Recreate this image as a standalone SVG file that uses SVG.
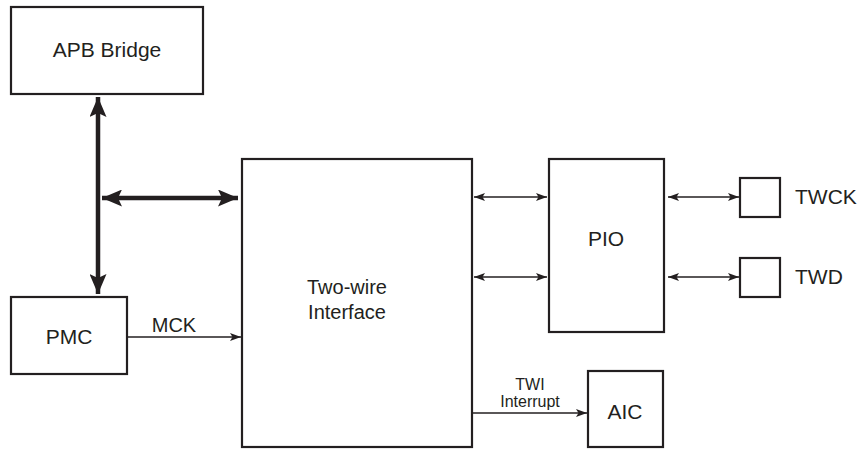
<svg xmlns="http://www.w3.org/2000/svg" width="858" height="449" viewBox="0 0 858 449">
<style>
.box{fill:#fff;stroke:#231f20;stroke-width:2.2}
.t{font-family:"Liberation Sans",Arial,sans-serif;fill:#231f20;text-anchor:middle}
.thick{stroke:#231f20;stroke-width:4.5;fill:none}
.thin{stroke:#231f20;stroke-width:1.3;fill:none}
</style>
<defs>
<marker id="big" viewBox="0 0 20 17" refX="20" refY="8.5" markerWidth="20" markerHeight="17" markerUnits="userSpaceOnUse" orient="auto-start-reverse">
<path d="M0,0 L20,8.5 L0,17 L4,8.5 Z" fill="#231f20"/>
</marker>
<marker id="sm" viewBox="0 0 11 8" refX="11" refY="4" markerWidth="11" markerHeight="8" markerUnits="userSpaceOnUse" orient="auto-start-reverse">
<path d="M0,0 L11,4 L0,8 L2.5,4 Z" fill="#231f20"/>
</marker>
</defs>
<g id="connectors">
<line class="thick" x1="98" y1="97" x2="98" y2="294" marker-start="url(#big)" marker-end="url(#big)"/>
<line class="thick" x1="102" y1="198" x2="238" y2="198" marker-start="url(#big)" marker-end="url(#big)"/>
<line class="thin" x1="127" y1="337" x2="241" y2="337" marker-end="url(#sm)"/>
<line class="thin" x1="474" y1="197" x2="547" y2="197" marker-start="url(#sm)" marker-end="url(#sm)"/>
<line class="thin" x1="474" y1="277" x2="547" y2="277" marker-start="url(#sm)" marker-end="url(#sm)"/>
<line class="thin" x1="668" y1="197" x2="739" y2="197" marker-start="url(#sm)" marker-end="url(#sm)"/>
<line class="thin" x1="668" y1="277" x2="739" y2="277" marker-start="url(#sm)" marker-end="url(#sm)"/>
<line class="thin" x1="472" y1="413" x2="587" y2="413" marker-end="url(#sm)"/>
<text class="t" x="174" y="332" font-size="20">MCK</text>
<text class="t" x="530" y="390" font-size="16">TWI</text>
<text class="t" x="530" y="407" font-size="16">Interrupt</text>
</g>
<g id="apb">
<rect class="box" x="11" y="7" width="192" height="87"/>
<text class="t" x="107" y="57" font-size="21">APB Bridge</text>
</g>
<g id="pmc">
<rect class="box" x="11" y="297" width="116" height="77"/>
<text class="t" x="69" y="344" font-size="21">PMC</text>
</g>
<g id="twi">
<rect class="box" x="242" y="159" width="230" height="288"/>
<text class="t" x="347" y="294" font-size="20">Two-wire</text>
<text class="t" x="347" y="319" font-size="20">Interface</text>
</g>
<g id="pio">
<rect class="box" x="549" y="159" width="115" height="173"/>
<text class="t" x="606" y="246" font-size="21">PIO</text>
</g>
<g id="twck">
<rect class="box" x="740" y="178" width="40" height="39"/>
<text class="t" x="795" y="204" font-size="21" style="text-anchor:start">TWCK</text>
</g>
<g id="twd">
<rect class="box" x="740" y="258" width="40" height="39"/>
<text class="t" x="795" y="284" font-size="21" style="text-anchor:start">TWD</text>
</g>
<g id="aic">
<rect class="box" x="588" y="371" width="75" height="76"/>
<text class="t" x="625" y="419" font-size="21">AIC</text>
</g>
</svg>
